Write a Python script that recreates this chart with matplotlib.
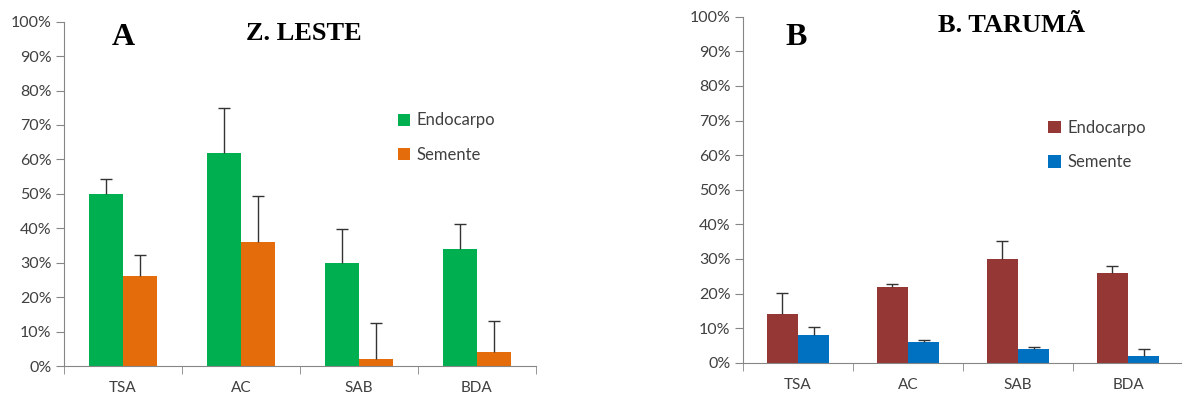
import numpy as np
import matplotlib.pyplot as plt
from matplotlib.ticker import PercentFormatter, FixedLocator

# Categories and values (%)
categorias = ['TSA', 'AC', 'SAB', 'BDA']

leste_endocarpo = [50, 62, 30, 34]
leste_semente = [26, 36, 2, 4]
leste_endocarpo_err = [4.2, 12.8, 9.7, 7.1]
leste_semente_err = [6.3, 13.4, 10.5, 9.2]

taruma_endocarpo = [14, 22, 30, 26]
taruma_semente = [8, 6, 4, 2]
taruma_endocarpo_err = [6.2, 0.7, 5.1, 2.0]
taruma_semente_err = [2.2, 0.6, 0.6, 2.1]

plt.rcParams['font.family'] = ['Lato', 'DejaVu Sans']

fig = plt.figure(figsize=(11.82, 3.98), dpi=100)
axA = fig.add_axes([0.0541, 0.0804, 0.3993, 0.8651])
axB = fig.add_axes([0.6286, 0.0887, 0.3723, 0.8693])

eixo = '#868686'


def barra_erro(ax, x, y, err):
    # upper error only, no cap at the bar top
    eb = ax.errorbar(x, y, yerr=[np.zeros(len(y)), err], fmt='none',
                     ecolor='#333333', elinewidth=1, capsize=4.5, capthick=1,
                     zorder=3)
    eb[1][0].set_visible(False)


def painel(ax, endo, sem, endo_err, sem_err, cores, letra, titulo,
           letra_pos, titulo_pos, leg_pos):
    x = np.arange(len(categorias))
    w = 0.285
    ax.bar(x - w / 2, endo, w, color=cores[0], label='Endocarpo', zorder=2)
    ax.bar(x + w / 2, sem, w, color=cores[1], label='Semente', zorder=2)
    barra_erro(ax, x - w / 2, endo, endo_err)
    barra_erro(ax, x + w / 2, sem, sem_err)

    ax.set_xlim(-0.5, 3.5)
    ax.set_ylim(0, 100)
    ax.set_yticks(np.arange(0, 101, 10))
    ax.yaxis.set_major_formatter(PercentFormatter(decimals=0))
    ax.set_xticks(x)
    ax.set_xticklabels(categorias)
    ax.xaxis.set_minor_locator(FixedLocator(np.arange(-0.5, 4, 1)))
    ax.tick_params(axis='x', which='major', length=0, pad=11,
                   labelsize=11, labelcolor='#404040')
    ax.tick_params(axis='x', which='minor', length=6, color=eixo, direction='out')
    ax.tick_params(axis='y', length=6, color=eixo, labelsize=11.5,
                   labelcolor='#404040', pad=3)
    for s in ['top', 'right']:
        ax.spines[s].set_visible(False)
    ax.spines['left'].set_color(eixo)
    ax.spines['bottom'].set_color(eixo)

    ax.text(letra_pos[0], letra_pos[1], letra, transform=ax.transAxes,
            family='Liberation Serif', fontweight='bold', fontsize=23,
            ha='center', va='center')
    ax.text(titulo_pos[0], titulo_pos[1], titulo, transform=ax.transAxes,
            family='Liberation Serif', fontweight='bold', fontsize=19,
            ha='center', va='center')
    ax.legend(loc='upper left', bbox_to_anchor=leg_pos, frameon=False,
              fontsize=12, handlelength=0.75, handleheight=0.75,
              handletextpad=0.4, labelspacing=1.1, labelcolor='#404040')


painel(axA, leste_endocarpo, leste_semente, leste_endocarpo_err, leste_semente_err,
       ['#00B050', '#E46C0A'], 'A', 'Z. LESTE',
       (0.125, 0.955), (0.508, 0.965), (0.675, 0.78))
painel(axB, taruma_endocarpo, taruma_semente, taruma_endocarpo_err, taruma_semente_err,
       ['#953735', '#0070C0'], 'B', 'B. TARUMÃ',
       (0.12, 0.94), (0.61, 0.975), (0.66, 0.745))

fig.savefig('out.png', dpi=100)
